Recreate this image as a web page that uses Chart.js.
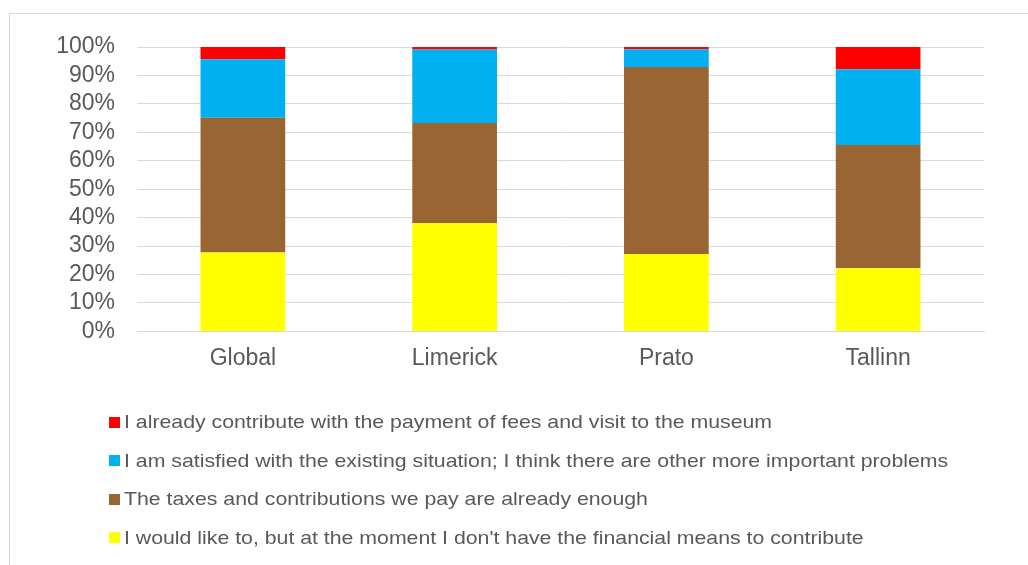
<!DOCTYPE html>
<html>
<head>
<meta charset="utf-8">
<script src="https://cdn.jsdelivr.net/npm/chart.js"></script>
<style>
  html, body { margin: 0; padding: 0; background: #fff; }
  #wrap { position: relative; width: 1028px; height: 565px; overflow: hidden; }
  #frame { position: absolute; left: 9px; top: 13px; width: 1040px; height: 600px; border: 1px solid #d9d9d9; }
  #priceChart { position: absolute; left: 0; top: 0; }
  #legend { position: absolute; left: 109px; top: 403px; font-family: "Liberation Sans", Arial, sans-serif; font-size: 18.5px; color: #595959; }
  #legend .row { height: 38.5px; display: flex; align-items: center; white-space: nowrap; }
  #legend .box { width: 11px; height: 11px; margin-right: 4px; flex: none; }
  #legend .txt { display: inline-block; transform: scaleX(1.15); transform-origin: left center; }
</style>
</head>
<body>
<div id="wrap">
  <div id="frame"></div>
  <canvas id="priceChart" width="1028" height="565"></canvas>
  <div id="legend"></div>
</div>
<script>
// stacked shares per city (percent)
const cities = ['Global', 'Limerick', 'Prato', 'Tallinn'];
const noMeans = [27.7, 38.0, 27.2, 22.2];
const taxesEnough = [47.4, 35.3, 65.8, 43.3];
const satisfied = [20.6, 25.8, 6.2, 26.7];
const alreadyPay = [4.3, 0.9, 0.8, 7.8];

const seriesLabels = [
  "I would like to, but at the moment I don't have the financial means to contribute",
  'The taxes and contributions we pay are already enough',
  'I am satisfied with the existing situation; I think there are other more important problems',
  'I already contribute with the payment of fees and visit to the museum'
];
const seriesColors = ['#ffff00', '#996633', '#00b0f0', '#ff0000'];
const seriesValues = [noMeans, taxesEnough, satisfied, alreadyPay];

document.addEventListener('DOMContentLoaded', () => {
  const ctx = document.getElementById('priceChart').getContext('2d');
  const textColor = '#595959';
  const gridColor = '#d9d9d9';
  const tickFont = { family: '"Liberation Sans", Arial, sans-serif', size: 23 };

  const data = {
    labels: cities,
    datasets: seriesLabels.map((label, i) => ({
      label: label,
      data: seriesValues[i],
      backgroundColor: seriesColors[i],
      borderWidth: 0,
      barPercentage: 0.4,
      categoryPercentage: 1.0
    }))
  };

  const config = {
    type: 'bar',
    data: data,
    options: {
      responsive: false,
      animation: false,
      layout: { padding: { top: 47, left: 57, right: 44, bottom: 180 } },
      plugins: {
        legend: { display: false },
        tooltip: { enabled: false }
      },
      scales: {
        x: {
          stacked: true,
          grid: { display: false, drawTicks: false },
          border: { color: gridColor, width: 1 },
          ticks: { color: textColor, padding: 13, font: tickFont }
        },
        y: {
          stacked: true,
          min: 0,
          max: 100,
          afterFit: (scale) => { scale.width = 80; },
          grid: { color: gridColor, lineWidth: 1, drawTicks: false },
          border: { display: false },
          ticks: {
            stepSize: 10,
            autoSkip: false,
            color: textColor,
            padding: 22,
            font: tickFont,
            callback: (v) => v + '%'
          }
        }
      }
    }
  };

  const chart = new Chart(ctx, config);

  // legend list, top series first
  const legend = document.getElementById('legend');
  chart.data.datasets.slice().reverse().forEach((ds) => {
    const row = document.createElement('div');
    row.className = 'row';
    const box = document.createElement('span');
    box.className = 'box';
    box.style.background = ds.backgroundColor;
    const txt = document.createElement('span');
    txt.className = 'txt';
    txt.textContent = ds.label;
    row.appendChild(box);
    row.appendChild(txt);
    legend.appendChild(row);
  });
});
</script>
</body>
</html>
